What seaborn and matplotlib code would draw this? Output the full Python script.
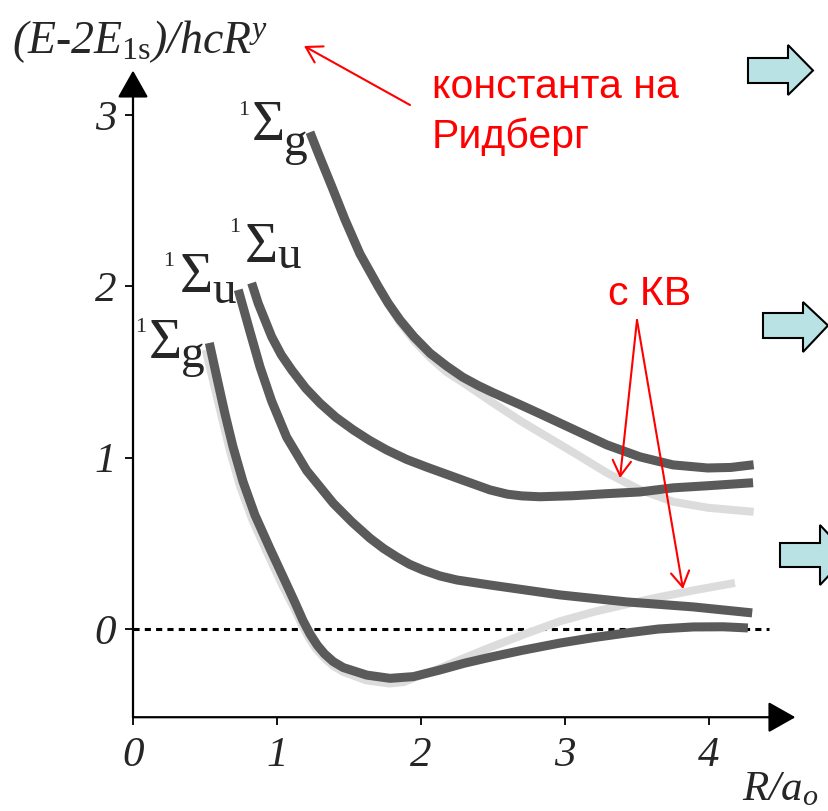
import numpy as np
import matplotlib
matplotlib.use("Agg")
import matplotlib.pyplot as plt
import seaborn as sns
from matplotlib.patches import Polygon

# ---- data ----
# ground state 1Sg (dark) and its light companion
xa = [0.53, 0.59, 0.639, 0.694, 0.764, 0.847, 0.951, 1.056, 1.13, 1.18, 1.23, 1.28, 1.33, 1.39, 1.46, 1.623, 1.785, 1.947, 2.132, 2.30, 2.479, 2.70, 2.965, 3.20, 3.43, 3.65, 3.89, 4.10, 4.27]
ya = [1.67, 1.44, 1.255, 1.065, 0.86, 0.665, 0.47, 0.28, 0.145, 0.05, -0.03, -0.095, -0.145, -0.19, -0.225, -0.269, -0.288, -0.278, -0.239, -0.20, -0.165, -0.125, -0.082, -0.05, -0.023, 0.0, 0.012, 0.013, 0.006]
xa_l = [0.505, 0.57, 0.62, 0.675, 0.745, 0.83, 0.935, 1.04, 1.12, 1.17, 1.22, 1.27, 1.33, 1.39, 1.46, 1.62, 1.78, 1.88, 1.95, 2.10, 2.27, 2.479, 2.72, 2.965, 3.20, 3.43, 3.66, 3.89, 4.18]
ya_l = [1.63, 1.40, 1.225, 1.035, 0.83, 0.635, 0.44, 0.25, 0.12, 0.03, -0.05, -0.115, -0.17, -0.215, -0.25, -0.30, -0.318, -0.31, -0.285, -0.24, -0.18, -0.108, -0.03, 0.045, 0.10, 0.145, 0.187, 0.225, 0.269]

# lower 1Su
xb = [0.731, 0.8125, 0.882, 0.963, 1.067, 1.206, 1.391, 1.52, 1.646, 1.74, 1.833, 1.92, 2.014, 2.13, 2.25, 2.479, 2.965, 3.43, 3.89, 4.30]
yb = [1.98, 1.735, 1.53, 1.33, 1.12, 0.925, 0.734, 0.625, 0.53, 0.47, 0.42, 0.378, 0.344, 0.31, 0.286, 0.257, 0.199, 0.158, 0.129, 0.094]

# upper 1Su
xc = [0.824, 0.870, 0.963, 1.03, 1.102, 1.20, 1.299, 1.41, 1.53, 1.645, 1.762, 1.90, 2.04, 2.27, 2.479, 2.60, 2.70, 2.826, 3.056, 3.29, 3.52, 3.75, 3.986, 4.306]
yc = [2.02, 1.90, 1.706, 1.60, 1.512, 1.405, 1.318, 1.235, 1.162, 1.10, 1.045, 0.99, 0.945, 0.875, 0.812, 0.787, 0.777, 0.772, 0.778, 0.79, 0.80, 0.824, 0.836, 0.854]

# upper 1Sg (dark) and its light companion
xd = [1.229, 1.285, 1.382, 1.472, 1.576, 1.704, 1.773, 1.854, 1.951, 2.063, 2.178, 2.29, 2.40, 2.50, 2.70, 2.83, 3.06, 3.29, 3.52, 3.75, 3.99, 4.15, 4.31]
yd = [2.90, 2.78, 2.58, 2.39, 2.19, 1.998, 1.901, 1.804, 1.706, 1.61, 1.535, 1.47, 1.42, 1.38, 1.305, 1.255, 1.165, 1.075, 1.005, 0.958, 0.94, 0.943, 0.959]
xd_l = [1.229, 1.285, 1.382, 1.472, 1.576, 1.704, 1.773, 1.854, 1.951, 2.063, 2.178, 2.29, 2.50, 2.70, 2.83, 3.06, 3.29, 3.52, 3.75, 3.99, 4.31]
yd_l = [2.90, 2.78, 2.58, 2.39, 2.19, 1.99, 1.895, 1.79, 1.685, 1.585, 1.50, 1.44, 1.32, 1.21, 1.145, 1.03, 0.912, 0.813, 0.743, 0.708, 0.684]

x_ticks = [0, 1, 2, 3, 4]
y_ticks = [0, 1, 2, 3]
zero_line_end = 4.42

DARK = "#5a5a5a"
LIGHT = "#dcdcdc"
RED = "#ff0000"

# ---- figure / pixel layout ----
W, H = 829, 811
X0, SX = 133, 144.0     # pixel of x=0, pixels per unit
Y0, SY = 629, 171.3     # pixel of y=0, pixels per unit
XMAX, YMIN, YMAX = 4.60, -0.515, 3.26


def px(x, y):
    # pixel position -> data coords (for annotations only)
    return ((x - X0) / SX, (Y0 - y) / SY)


def fpx(x, y):
    # pixel position -> figure fraction
    return (x / W, 1 - y / H)


sns.set_style("white")
plt.rcParams["mathtext.fontset"] = "custom"
plt.rcParams["mathtext.rm"] = "Liberation Serif"
plt.rcParams["mathtext.it"] = "Liberation Serif:italic"

fig = plt.figure(figsize=(W / 100, H / 100), dpi=100)
left = X0 / W
bottom = 1 - (Y0 - YMIN * SY) / H
ax = fig.add_axes([left, bottom, XMAX * SX / W, (YMAX - YMIN) * SY / H])
ax.set_xlim(0, XMAX)
ax.set_ylim(YMIN, YMAX)
for s in ax.spines.values():
    s.set_visible(False)

# axes with arrow heads
axis_arrow = dict(arrowstyle="-|>,head_length=0.85,head_width=0.48",
                  mutation_scale=20, color="black", lw=1.6, shrinkA=0, shrinkB=0)
ax.annotate("", xy=(0, YMAX), xytext=(0, YMIN), annotation_clip=False, arrowprops=axis_arrow)
ax.annotate("", xy=(XMAX, YMIN), xytext=(0, YMIN), annotation_clip=False, arrowprops=axis_arrow)

ax.set_xticks(x_ticks)
ax.set_yticks(y_ticks)
ax.tick_params(axis="both", direction="out", length=6, width=1.3, color="black",
               labelsize=31, left=True, bottom=True)
ax.tick_params(axis="x", pad=8)
ax.tick_params(axis="y", pad=6)
for lbl in ax.get_xticklabels() + ax.get_yticklabels():
    lbl.set_fontfamily("Liberation Serif")
    lbl.set_fontstyle("italic")

# zero reference line
ax.hlines(0, 0, zero_line_end, colors="black", linestyles=(0, (2, 1.7)), lw=2.2, zorder=1)

kw = dict(ax=ax, sort=False, estimator=None, legend=False,
          solid_capstyle="butt", solid_joinstyle="round")
sns.lineplot(x=xa_l, y=ya_l, color=LIGHT, linewidth=5.8, zorder=2, **kw)
sns.lineplot(x=xd_l, y=yd_l, color=LIGHT, linewidth=5.8, zorder=2, **kw)
sns.lineplot(x=xa, y=ya, color=DARK, linewidth=6.5, zorder=3, **kw)
sns.lineplot(x=xb, y=yb, color=DARK, linewidth=6.5, zorder=3, **kw)
sns.lineplot(x=xc, y=yc, color=DARK, linewidth=6.5, zorder=3, **kw)
sns.lineplot(x=xd, y=yd, color=DARK, linewidth=6.5, zorder=3, **kw)
ax.set_xlabel("")
ax.set_ylabel("")

# term labels: (Sigma centre, Sigma baseline, "1" right, "1" top, sub left, sub baseline, sub)
terms = [
    (268, 140, 249, 101, 284, 155, "g"),
    (261, 262, 240, 218, 277, 268, "u"),
    (196, 292, 174, 252, 212, 303, "u"),
    (165, 358, 146, 318, 181, 367, "g"),
]
serif = "Liberation Serif"
for sx, sb, ox, oy, gx, gb, sub in terms:
    ax.text(*px(sx, sb), "\u03a3", family=serif, fontsize=41, ha="center", va="baseline")
    ax.text(*px(ox, oy), "1", family=serif, fontsize=16, ha="right", va="top")
    ax.text(*px(gx, gb), sub, family=serif, fontsize=34, ha="left", va="baseline")

# axis titles
fig.text(*fpx(12, 53), r"(E-2E$_{\mathrm{1s}}$)/hcR$^{y}$", family=serif,
         style="italic", fontsize=33, ha="left", va="baseline")
fig.text(*fpx(742, 800), r"R/a$_{o}$", family=serif, style="italic",
         fontsize=31, ha="left", va="baseline")

# red annotations
sans = "Liberation Sans"
ax.text(*px(432, 98), "константа на", family=sans, color=RED, fontsize=29.5,
        ha="left", va="baseline")
ax.text(*px(432, 148), "Ридберг", family=sans, color=RED, fontsize=29.5,
        ha="left", va="baseline")
ax.text(*px(608, 305), "с КВ", family=sans, color=RED, fontsize=29.5,
        ha="left", va="baseline")
red_arrow = dict(arrowstyle="->,head_length=0.55,head_width=0.33", mutation_scale=20,
                 color=RED, lw=1.5, shrinkA=0, shrinkB=0)
ax.annotate("", xy=px(304, 46), xytext=px(410, 105), arrowprops=red_arrow, annotation_clip=False)
ax.annotate("", xy=px(620, 478), xytext=px(637, 320), arrowprops=red_arrow, annotation_clip=False)
ax.annotate("", xy=px(683, 589), xytext=px(637, 320), arrowprops=red_arrow, annotation_clip=False)

# block arrows at the right edge (left, body top, body bottom, head base, head top, head bottom, tip)
blocks = [
    (748, 58, 83, 788, 45, 95, 813),
    (763, 313, 338, 803, 302, 352, 828),
    (780, 543, 567, 820, 525, 585, 848),
]
for l, bt, bb, hb, ht, hbm, tip in blocks:
    mid = (bt + bb) / 2
    pts = [fpx(l, bt), fpx(hb, bt), fpx(hb, ht), fpx(tip, mid),
           fpx(hb, hbm), fpx(hb, bb), fpx(l, bb)]
    fig.patches.append(Polygon(pts, closed=True, facecolor="#b9e2e5",
                               edgecolor="black", lw=1.5, transform=fig.transFigure))

fig.savefig("out.png", dpi=100)
plt.close(fig)
